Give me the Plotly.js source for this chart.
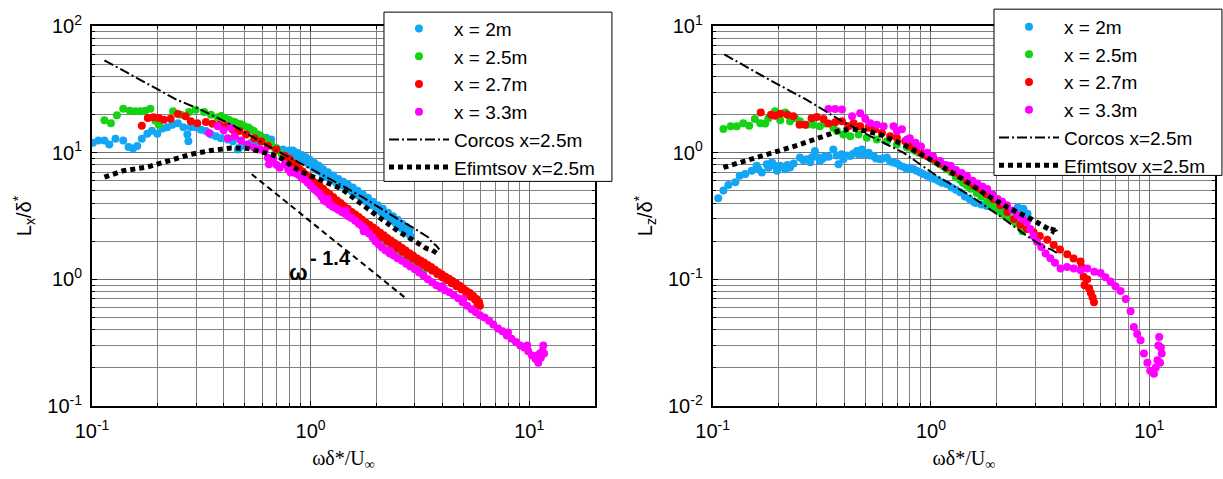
<!DOCTYPE html>
<html><head><meta charset="utf-8">
<script src="https://cdn.plot.ly/plotly-3.0.1.min.js"></script>
<style>html,body{margin:0;padding:0;background:#fff}#chart{width:1223px;height:479px}</style>
</head><body><div id="chart"></div>
<script>
// ---------- Left panel: Lx/delta* ----------
const lxBlue = [
[0.101,12.0],[0.107,12.5],[0.114,12.5],[0.120,11.6],[0.128,12.9],[0.139,12.5],[0.147,11.1],[0.154,10.8],[0.161,11.3],[0.169,12.9],[0.179,14.1],[0.188,14.9],[0.199,14.1],[0.210,15.5],[0.221,15.9],[0.233,16.6],[0.247,17.1],[0.262,15.9],[0.273,13.9],[0.276,12.3],[0.283,15.9],[0.298,15.9],[0.315,15.2],[0.332,14.8],[0.350,13.9],[0.369,13.5],[0.389,13.0],[0.418,12.7],[0.441,12.3],[0.465,10.6],[0.470,10.9],[0.498,11.3],[0.535,12.0],[0.574,12.0],[0.616,12.3],[0.626,13.1],[0.649,12.0],[0.660,12.7],[0.697,10.9],[0.748,10.6],[0.789,10.3],
[0.80,10.4],[0.82,9.6],[0.84,10.1],[0.86,9.3],[0.88,9.7],[0.90,8.9],[0.92,9.2],[0.94,8.5],[0.96,8.8],[0.98,8.1],[1.00,8.3],[1.03,7.6],[1.05,7.9],[1.08,7.2],[1.10,7.4],[1.13,6.8],[1.16,6.9],[1.19,6.4],[1.22,6.5],[1.25,6.1],[1.28,6.2],[1.31,5.8],[1.35,5.9],[1.38,5.5],[1.42,5.6],[1.46,5.2],[1.50,5.3],[1.54,4.95],[1.58,5.0],[1.62,4.65],[1.66,4.7],[1.70,4.35],[1.75,4.4],[1.80,4.1],[1.85,4.1],[1.90,3.85],[1.95,3.85],[2.00,3.6],[2.05,3.6],[2.10,3.4],[2.16,3.35],[2.22,3.15],[2.28,3.1],[2.34,2.95],[2.40,2.9],[2.46,2.75],[2.52,2.7],[2.58,2.55],[2.64,2.5],[2.70,2.42],[2.76,2.33],[2.82,2.3],[2.86,2.2],
[0.83,10.4],[0.87,10.0],[0.91,9.6],[0.95,9.2],[0.99,8.8],[1.04,8.3],[1.09,7.9],[1.14,7.4],[1.20,7.0],[1.27,6.6],[1.34,6.2],[1.41,5.9],[1.48,5.6],[1.56,5.3],[1.64,5.0],[1.73,4.7],[1.83,4.4],[1.93,4.1],[2.03,3.85],[2.14,3.6],[2.26,3.35],[2.38,3.15],[2.50,2.95],[2.62,2.75],[2.74,2.6],[2.84,2.45]
];
const lxGreen = [
[0.114,18.0],[0.122,17.1],[0.130,19.7],[0.139,22.2],[0.149,21.4],[0.158,21.2],[0.166,21.2],[0.175,21.4],[0.185,22.2],[0.195,17.9],[0.202,16.6],[0.235,21.2],[0.255,19.9],[0.278,20.9],[0.298,21.8],[0.326,20.9],[0.350,19.9],[0.376,19.0],[0.390,19.5],[0.403,18.8],[0.420,18.3],[0.433,17.7],[0.450,17.5],[0.465,16.9],[0.480,16.8],[0.498,16.2],[0.520,15.8],[0.535,15.2],[0.550,14.8],[0.574,13.9],[0.590,13.6],[0.606,13.0],[0.620,12.6],[0.638,12.0],[0.660,11.6],[0.685,10.9],[0.710,10.4],
[0.74,9.6],[0.77,9.0],[0.80,8.6],[0.84,8.0],[0.88,7.5],[0.92,7.0],[0.96,6.6],[1.00,6.2],[1.05,5.8],[1.10,5.4],[1.15,5.05],[1.20,4.75],[1.26,4.45],[1.32,4.15],[1.38,3.9],[1.45,3.6],[1.52,3.4],[1.60,3.15],[1.68,2.95],[1.76,2.75],[1.85,2.55],[1.94,2.38],[2.03,2.22],[2.12,2.1],[2.22,1.97],[2.32,1.85],[2.42,1.75],[2.52,1.66],[2.62,1.58],[2.72,1.5],[2.82,1.44],[2.92,1.38],[3.02,1.32],[3.12,1.28],[3.22,1.24],[3.32,1.2]
];
const lxRed = [
[0.169,16.3],[0.180,18.8],[0.191,19.0],[0.202,18.8],[0.213,18.2],[0.229,18.5],[0.247,20.2],[0.268,19.4],[0.283,17.7],[0.303,17.1],[0.332,17.5],[0.356,16.9],[0.382,16.6],[0.410,16.2],[0.441,15.2],[0.472,14.8],[0.507,13.9],[0.553,13.0],[0.594,12.3],[0.638,11.3],[0.697,10.6],[0.762,9.4],
[0.80,8.9],[0.83,8.3],[0.86,7.9],[0.89,7.4],[0.92,7.1],[0.95,6.7],[0.98,6.4],[1.02,6.0],[1.06,5.7],[1.10,5.45],[1.14,5.2],[1.18,4.9],[1.22,4.7],[1.27,4.45],[1.32,4.2],[1.37,4.0],[1.42,3.8],[1.48,3.6],[1.54,3.4],[1.60,3.25],[1.66,3.1],[1.72,2.95],[1.79,2.8],[1.86,2.68],[1.93,2.56],[2.00,2.45],[2.08,2.33],[2.16,2.23],[2.24,2.12],[2.33,2.03],[2.42,1.94],[2.52,1.85],[2.62,1.77],[2.72,1.69],[2.83,1.61],[2.94,1.54],[3.06,1.47],[3.18,1.41],[3.30,1.36],[3.43,1.30],[3.56,1.25],[3.70,1.19],[3.84,1.14],[3.99,1.09],[4.14,1.05],[4.30,1.01],[4.46,0.97],[4.63,0.93],[4.80,0.89],[4.98,0.85],[5.16,0.81],[5.35,0.78],[5.55,0.74],[5.75,0.70],[5.90,0.66],[5.95,0.62],[5.80,0.64],
[0.82,7.7],[0.87,7.0],[0.93,6.4],[0.99,5.9],[1.05,5.4],[1.12,5.0],[1.19,4.6],[1.26,4.2],[1.34,3.9],[1.42,3.6],[1.51,3.35],[1.60,3.1],[1.70,2.85],[1.80,2.65],[1.90,2.45],[2.01,2.3],[2.12,2.15],[2.24,2.0],[2.37,1.87],[2.50,1.75],[2.64,1.65],[2.78,1.55],[2.93,1.46],[3.09,1.38],[3.25,1.31],[3.42,1.24],[3.60,1.17],[3.80,1.1],[4.00,1.04],[4.20,0.99],[4.42,0.93],[4.65,0.88],[4.90,0.83],[5.15,0.78],[5.40,0.73],[5.65,0.69]
];
const lxMagenta = [
[0.343,14.3],[0.376,16.2],[0.400,15.0],[0.418,13.0],[0.433,15.7],[0.450,13.5],[0.480,12.5],[0.515,11.6],[0.550,11.0],[0.590,10.6],[0.616,10.3],[0.638,9.1],[0.645,8.1],[0.673,8.9],[0.700,8.0],[0.722,7.6],[0.762,8.1],[0.790,7.4],[0.810,6.98],
[0.82,7.2],[0.85,6.9],[0.88,6.7],[0.91,6.3],[0.94,6.1],[0.97,5.8],[1.00,5.5],[1.03,5.2],[1.06,5.0],[1.09,4.8],[1.12,4.5],[1.15,4.2],[1.18,4.1],[1.22,3.9],[1.26,3.75],[1.30,3.65],[1.34,3.55],[1.39,3.4],[1.44,3.3],[1.49,3.15],[1.54,3.05],[1.60,2.9],[1.66,2.75],[1.72,2.62],[1.78,2.5],[1.85,2.3],[1.92,2.15],[1.98,2.0],[2.05,1.88],[2.12,1.78],[2.20,1.7],[2.30,1.6],[2.40,1.54],[2.50,1.47],[2.62,1.4],[2.74,1.33],[2.86,1.26],[3.00,1.2],[3.14,1.13],[3.28,1.07],[3.44,1.0],[3.60,0.95],[3.76,0.9],[3.94,0.86],[4.12,0.82],[4.32,0.79],[4.52,0.75],[4.74,0.71],[4.96,0.66],[5.20,0.62],[5.45,0.58],[5.70,0.55],[5.95,0.52],[6.25,0.5],[6.55,0.47],[6.85,0.44],[7.2,0.41],[7.55,0.39],[7.9,0.36],[8.3,0.34],[8.7,0.32],[9.1,0.3],[9.5,0.29],[9.9,0.27],[10.3,0.25],[10.7,0.235],[11.0,0.22],[11.3,0.24],[11.5,0.27],[11.6,0.3],[11.7,0.26],[11.2,0.26],[10.9,0.25],
[1.20,4.3],[1.45,3.5],[1.75,2.4],[2.30,1.68],[3.10,1.18],[4.00,0.88],[5.00,0.70],[8.00,0.38],[9.80,0.30]
];
const lxCorcos = [
[0.114,53.6],[0.185,34.2],[0.245,26.1],[0.315,21.8],[0.448,16.2],[0.638,11.3],[0.80,9.2],[1.0,7.4],[1.2,6.3],[1.45,5.3],[1.75,4.4],[2.1,3.6],[2.5,3.0],[2.9,2.6],[3.2,2.35],[3.45,2.15],[3.6,1.95],[3.75,1.85],[3.88,1.72]
];
const lxEfimtsov = [
[0.114,6.4],[0.139,7.2],[0.179,7.7],[0.221,8.5],[0.283,9.7],[0.35,10.4],[0.433,10.9],[0.515,10.8],[0.574,10.3],[0.661,9.7],[0.748,8.9],[0.817,7.87],[0.9,7.1],[1.08,6.18],[1.39,5.17],[1.91,3.40],[2.54,2.37],[3.0,2.0],[3.37,1.76],[3.6,1.7],[3.75,1.6],[3.88,1.56]
];
const lxSlopeLine = [[0.538,6.76],[2.75,0.70]];

// ---------- Right panel: Lz/delta* ----------
const lzBlue = [
[0.106,0.437],[0.112,0.502],[0.118,0.556],[0.127,0.583],[0.133,0.658],[0.141,0.678],[0.151,0.720],[0.159,0.788],[0.162,0.74],[0.168,0.698],[0.177,0.811],[0.180,0.76],[0.187,0.836],[0.193,0.79],[0.197,0.720],[0.204,0.788],[0.210,0.77],[0.215,0.741],[0.220,0.80],[0.226,0.764],[0.235,0.82],[0.251,0.914],[0.260,0.87],[0.270,0.887],[0.280,0.84],[0.285,0.92],[0.294,1.03],[0.305,0.914],[0.310,0.86],[0.320,0.90],[0.327,0.942],[0.340,0.93],[0.357,1.06],[0.370,0.95],[0.377,0.811],[0.390,0.97],[0.397,0.887],[0.410,0.95],[0.427,0.942],[0.440,0.98],[0.458,1.03],[0.470,0.96],[0.482,1.06],[0.500,0.97],[0.518,1.0],[0.530,0.95],[0.546,0.942],[0.560,0.9],[0.585,0.887],[0.600,0.9],[0.628,0.914],[0.650,0.85],[0.674,0.836],[0.700,0.82],[0.723,0.788],[0.750,0.77],[0.776,0.741],[0.800,0.76],[0.833,0.741],[0.860,0.72],[0.893,0.698],[0.920,0.68],[0.959,0.658],
[1.00,0.63],[1.04,0.62],[1.08,0.60],[1.12,0.58],[1.18,0.565],[1.24,0.53],[1.30,0.51],[1.36,0.487],[1.43,0.45],[1.50,0.43],[1.57,0.407],[1.60,0.40],[1.70,0.39],[1.80,0.38],[1.90,0.37],[2.00,0.36],[2.15,0.355],[2.30,0.35],[2.45,0.34],[2.50,0.37],[2.60,0.33],[2.65,0.36],[2.70,0.315],[2.77,0.33]
];
const lzGreen = [
[0.112,1.54],[0.121,1.62],[0.129,1.62],[0.138,1.71],[0.147,1.63],[0.156,1.84],[0.165,1.71],[0.174,1.70],[0.180,1.87],[0.193,2.12],[0.204,1.80],[0.215,2.08],[0.226,1.77],[0.239,1.87],[0.251,1.77],[0.270,1.66],[0.289,1.66],[0.310,1.62],[0.327,1.70],[0.357,1.57],[0.371,1.48],[0.397,1.39],[0.427,1.35],[0.466,1.39],[0.508,1.31],[0.565,1.27],[0.628,1.23],[0.698,1.16],[0.776,1.10],
[0.82,1.06],[0.85,1.03],[0.88,1.0],[0.92,0.97],[0.96,0.94],[1.00,0.90],[1.05,0.85],[1.10,0.81],[1.14,0.78],[1.18,0.741],[1.24,0.70],[1.30,0.64],[1.36,0.61],[1.40,0.58],[1.46,0.55],[1.52,0.52],[1.62,0.48],[1.70,0.45],[1.81,0.407],[1.90,0.39],[1.96,0.37],[2.08,0.34],[2.18,0.32],[2.30,0.30],[2.44,0.28],[2.57,0.26],[2.62,0.24]
];
const lzRed = [
[0.166,2.08],[0.185,1.99],[0.193,1.96],[0.204,2.03],[0.220,1.99],[0.234,1.94],[0.250,1.66],[0.265,1.66],[0.284,1.87],[0.300,1.91],[0.322,1.84],[0.339,1.70],[0.364,1.74],[0.391,1.77],[0.419,1.62],[0.442,1.71],[0.474,1.62],[0.518,1.57],[0.555,1.53],[0.596,1.43],[0.650,1.35],[0.698,1.31],[0.762,1.23],
[0.80,1.13],[0.85,1.06],[0.90,1.0],[0.96,0.94],[1.03,0.887],[1.10,0.82],[1.18,0.76],[1.27,0.70],[1.36,0.658],[1.46,0.60],[1.57,0.55],[1.68,0.516],[1.80,0.47],[1.93,0.43],[2.08,0.384],[2.24,0.34],[2.40,0.30],[2.57,0.27],[2.75,0.25],[2.95,0.235],[3.15,0.22],[3.41,0.205],[3.65,0.187],[3.90,0.172],[4.21,0.158],[4.50,0.146],[4.84,0.138],[4.90,0.125],[5.00,0.105],[5.05,0.09],[5.20,0.10],[5.30,0.085],[5.40,0.078],[5.50,0.072],[5.58,0.066]
];
const lzMagenta = [
[0.339,2.21],[0.364,2.21],[0.391,2.19],[0.435,1.94],[0.474,2.05],[0.500,1.85],[0.527,1.71],[0.565,1.66],[0.607,1.62],[0.674,1.62],[0.698,1.48],[0.736,1.53],[0.776,1.27],
[0.80,1.3],[0.85,1.2],[0.90,1.12],[0.96,1.0],[1.02,0.94],[1.10,0.86],[1.17,0.80],[1.23,0.788],[1.30,0.73],[1.38,0.69],[1.46,0.658],[1.55,0.60],[1.63,0.57],[1.72,0.54],[1.81,0.516],[1.91,0.47],[2.02,0.43],[2.12,0.41],[2.23,0.384],[2.37,0.35],[2.50,0.32],[2.62,0.30],[2.75,0.284],[2.85,0.25],[2.95,0.22],[3.06,0.198],[3.20,0.18],[3.35,0.16],[3.52,0.147],[3.70,0.135],[3.92,0.122],[4.20,0.125],[4.51,0.122],[4.85,0.118],[5.20,0.122],[5.60,0.115],[5.98,0.112],[6.30,0.104],[6.65,0.096],[7.00,0.088],[7.39,0.081],[7.80,0.070],[8.21,0.056],[8.50,0.042],[8.80,0.037],[9.12,0.033],[9.45,0.026],[9.80,0.022],[10.1,0.019],[10.5,0.018],[10.9,0.023],[11.3,0.029],[11.1,0.035],[11.4,0.026],[10.7,0.020],[11.0,0.030],[11.2,0.022]
];
const lzCorcos = [
[0.113,5.97],[0.183,3.74],[0.270,2.61],[0.371,1.87],[0.527,1.35],[0.748,1.0],[1.06,0.658],[1.51,0.459],[2.15,0.301],[2.75,0.22],[3.3,0.18],[3.6,0.17],[3.78,0.161]
];
const lzEfimtsov = [
[0.112,0.764],[0.129,0.824],[0.153,0.914],[0.177,0.970],[0.211,1.06],[0.251,1.16],[0.289,1.27],[0.333,1.39],[0.384,1.50],[0.442,1.53],[0.508,1.48],[0.585,1.39],[0.674,1.27],[0.748,1.16],[0.96,0.914],[1.36,0.638],[1.81,0.459],[2.31,0.36],[2.86,0.301],[3.41,0.252],[3.6,0.24],[3.65,0.26],[3.72,0.237]
];

const seriesNames = ['x = 2m','x = 2.5m','x = 2.7m','x = 3.3m','Corcos x=2.5m','Efimtsov x=2.5m'];
const seriesColors = ['#13a6f5','#14d314','#ff0000','#ff00ff'];

const xs = a => a.map(p => p[0]);
const ys = a => a.map(p => p[1]);

function scatterTrace(arr, i, xa, ya, leg) {
  return {type:'scatter', mode:'markers', x:xs(arr), y:ys(arr), name:seriesNames[i], legendgroup:leg+'_'+i,
    xaxis:xa, yaxis:ya, legend:leg, marker:{size:8, color:seriesColors[i]}};
}
function corcosTrace(arr, xa, ya, leg) {
  return {type:'scatter', mode:'lines', x:xs(arr), y:ys(arr), name:seriesNames[4], legendgroup:leg+'_4', xaxis:xa, yaxis:ya, legend:leg,
    line:{color:'#000', width:2, dash:'10px,3px,2px,3px'}};
}
function efimTrace(arr, xa, ya, leg) {
  return {type:'scatter', mode:'lines', x:xs(arr), y:ys(arr), name:seriesNames[5], legendgroup:leg+'_5', xaxis:xa, yaxis:ya, legend:leg,
    line:{color:'#000', width:5, dash:'5px,4px'}};
}

const data = [
  scatterTrace(lxBlue,0,'x','y','legend'),
  scatterTrace(lxGreen,1,'x','y','legend'),
  scatterTrace(lxRed,2,'x','y','legend'),
  scatterTrace(lxMagenta,3,'x','y','legend'),
  corcosTrace(lxCorcos,'x','y','legend'),
  efimTrace(lxEfimtsov,'x','y','legend'),
  {type:'scatter', mode:'lines', x:xs(lxSlopeLine), y:ys(lxSlopeLine), xaxis:'x', yaxis:'y', showlegend:false,
    line:{color:'#000', width:2, dash:'6px,4px'}},
  scatterTrace(lzBlue,0,'x2','y2','legend2'),
  scatterTrace(lzGreen,1,'x2','y2','legend2'),
  scatterTrace(lzRed,2,'x2','y2','legend2'),
  scatterTrace(lzMagenta,3,'x2','y2','legend2'),
  corcosTrace(lzCorcos,'x2','y2','legend2'),
  efimTrace(lzEfimtsov,'x2','y2','legend2')
];

const xTickVals = [0.1,1,10];
const xTickText = ['10<sup>-1</sup>','10<sup>0</sup>','10<sup>1</sup>'];
const xMinor = [0.2,0.3,0.4,0.5,0.6,0.7,0.8,0.9,2,3,4,5,6,7,8,9];
const y1TickVals = [0.1,1,10,100];
const y1TickText = ['10<sup>-1</sup>','10<sup>0</sup>','10<sup>1</sup>','10<sup>2</sup>'];
const y1Minor = [0.2,0.3,0.4,0.5,0.6,0.7,0.8,0.9,2,3,4,5,6,7,8,9,20,30,40,50,60,70,80,90];
const y2TickVals = [0.01,0.1,1,10];
const y2TickText = ['10<sup>-2</sup>','10<sup>-1</sup>','10<sup>0</sup>','10<sup>1</sup>'];
const y2Minor = [0.02,0.03,0.04,0.05,0.06,0.07,0.08,0.09,0.2,0.3,0.4,0.5,0.6,0.7,0.8,0.9,2,3,4,5,6,7,8,9];

const sans = 'Liberation Sans, Arial, sans-serif';
const serif = 'Liberation Serif, Times New Roman, serif';
const minorStyle = {showgrid:true, gridcolor:'#808080', gridwidth:1, ticks:'inside', ticklen:3, tickcolor:'#000'};
function axis(extra) {
  return Object.assign({
    type:'log', showline:true, linecolor:'#000', linewidth:2, mirror:'allticks',
    ticks:'inside', ticklen:5, tickwidth:1, tickcolor:'#000',
    showgrid:true, gridcolor:'#6e6e6e', gridwidth:1, zeroline:false, automargin:false,
    tickfont:{family:sans, size:20, color:'#000'}, ticklabelstandoff:4
  }, extra);
}

// legend frames (paper coordinates of the plot area)
const legendBoxes = [
  {x0:0.2600, x1:0.4630, y0:0.5911, y1:1.0365},
  {x0:0.8032, x1:1.0062, y0:0.6068, y1:1.0443}
];

const layout = {
  width:1223, height:479, paper_bgcolor:'#fff', plot_bgcolor:'#fff',
  margin:{l:92, r:8, t:22, b:73},
  showlegend:true,
  xaxis: axis({domain:[0,0.4479], range:[-1,Math.log10(20)], tickmode:'array', tickvals:xTickVals, ticktext:xTickText,
    minor:Object.assign({tickvals:xMinor}, minorStyle), ticklabelstandoff:6,
    anchor:'y', title:{text:'ωδ*/U<sub>∞</sub>', font:{family:serif, size:20, color:'#000'}, standoff:10}}),
  yaxis: axis({domain:[0,1], range:[-1,2], tickmode:'array', tickvals:y1TickVals, ticktext:y1TickText,
    minor:Object.assign({tickvals:y1Minor}, minorStyle),
    anchor:'x', title:{text:'L<sub>x</sub>/δ<sup>*</sup>', font:{family:sans, size:20, color:'#000'}, standoff:10}}),
  xaxis2: axis({domain:[0.5527,1], range:[-1,Math.log10(20)], tickmode:'array', tickvals:xTickVals, ticktext:xTickText,
    minor:Object.assign({tickvals:xMinor}, minorStyle), ticklabelstandoff:6,
    anchor:'y2', title:{text:'ωδ*/U<sub>∞</sub>', font:{family:serif, size:20, color:'#000'}, standoff:10}}),
  yaxis2: axis({domain:[0,1], range:[-2,1], tickmode:'array', tickvals:y2TickVals, ticktext:y2TickText,
    minor:Object.assign({tickvals:y2Minor}, minorStyle),
    anchor:'x2', title:{text:'L<sub>z</sub>/δ<sup>*</sup>', font:{family:sans, size:20, color:'#000'}, standoff:10}}),
  legend:{x:0.2600, y:1.0427, xanchor:'left', yanchor:'top', bgcolor:'rgba(0,0,0,0)', borderwidth:0,
    font:{family:sans, size:19, color:'#000'}, itemwidth:60, tracegroupgap:0},
  legend2:{x:0.8032, y:1.0479, xanchor:'left', yanchor:'top', bgcolor:'rgba(0,0,0,0)', borderwidth:0,
    font:{family:sans, size:19, color:'#000'}, itemwidth:60, tracegroupgap:0},
  shapes: legendBoxes.map(b => ({type:'rect', xref:'paper', yref:'paper', x0:b.x0, x1:b.x1, y0:b.y0, y1:b.y1,
    fillcolor:'#fff', line:{color:'#000', width:1}, layer:'above'})),
  annotations:[
    {xref:'x', yref:'y', x:-0.055, y:0.055, text:'<b>ω</b>', showarrow:false, font:{family:sans, size:22, color:'#000'}},
    {xref:'x', yref:'y', x:0.09, y:0.168, text:'<b>- 1.4</b>', showarrow:false, font:{family:sans, size:20, color:'#000'}}
  ]
};

Plotly.newPlot('chart', data, layout, {displayModeBar:false, staticPlot:true});
</script>
</body></html>
